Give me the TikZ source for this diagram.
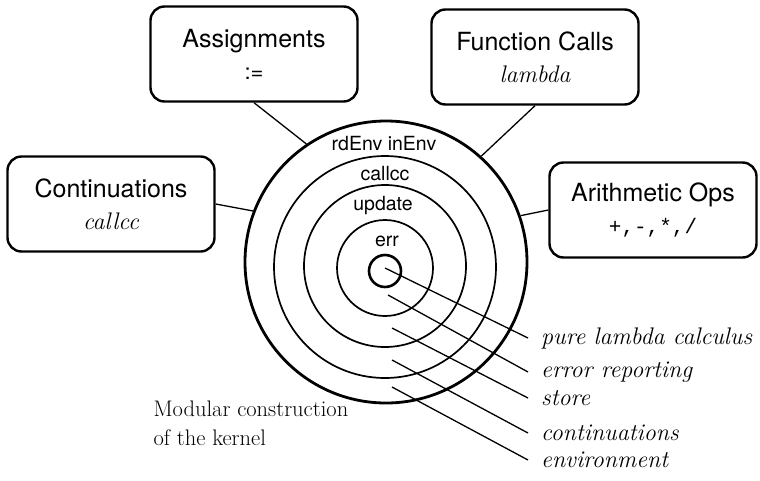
\documentclass[tikz,border=0pt]{standalone}
\usepackage{fontspec}
\setsansfont{TeX Gyre Heros}
\newfontfamily\opsfont{Liberation Mono}
\usetikzlibrary{positioning}

\begin{document}
\begin{tikzpicture}[x=1pt,y=-1pt,
    opbox/.style={draw,line width=2.4pt,rounded corners=14pt,align=center,
      minimum width=207pt,minimum height=95pt,font=\sffamily\fontsize{25}{32}\selectfont},
    ring/.style={circle,draw,line width=1.7pt,inner sep=0pt},
    ringtxt/.style={font=\sffamily\fontsize{19.5}{22}\selectfont,inner sep=0pt},
    layer/.style={anchor=west,inner xsep=13pt,font=\itshape\fontsize{24}{27}\selectfont},
    link/.style={line width=1.3pt}]
  \useasboundingbox (0,0) rectangle (760,480);
  % rings of the kernel, outermost first
  \node[ring,line width=2.8pt,minimum size=282pt] (envring) at (386,262) {};
  \node[ring,minimum size=222pt] (ccring) at (385,267) {};
  \node[ring,minimum size=162pt] (storering) at (385,266) {};
  \node[ring,minimum size=96pt] (errring) at (385,268) {};
  \node[ring,line width=2.6pt,minimum size=32pt] (core) at (385,271) {};
  \node[ringtxt] (rdenv) at (384,144) {rdEnv inEnv};
  \node[ringtxt] (callcc) at (385,174) {callcc};
  \node[ringtxt] (update) at (383,206) {update};
  \node[ringtxt] (err) at (387,241) {err};
  % language features
  \node[opbox] (assign) at (254,54) {Assignments\\ {\fontsize{22}{26}\selectfont :=}};
  \node[opbox] (funcall) at (535,57) {Function Calls\\ {\rmfamily\itshape\fontsize{24}{26}\selectfont lambda}};
  \node[opbox] (cont) at (111,204) {Continuations\\ {\rmfamily\itshape\fontsize{24}{26}\selectfont callcc}};
  \node[opbox] (arith) at (653,210) {Arithmetic Ops\\ {\opsfont\fontsize{21}{26}\selectfont +,-,*,/}};
  \draw[link] (assign.south) -- (envring.124);
  \draw[link] (funcall.south) -- (envring.48);
  \draw[link] (cont.east) -- (envring.159);
  \draw[link] (arith.west) -- (envring.19);
  % what each ring adds
  \coordinate (p1) at (385,268);
  \coordinate (p2) at (388,295);
  \coordinate (p3) at (392,328);
  \coordinate (p4) at (392,360);
  \coordinate (p5) at (392,387);
  \node[layer] (lam) at (528,338) {pure lambda calculus};
  \node[layer] (errrep) at (528,372) {error reporting};
  \node[layer] (store) at (528,398) {store};
  \node[layer] (conts) at (528,433) {continuations};
  \node[layer] (env) at (528,460) {environment};
  \draw[link] (p1) -- (lam.west);
  \draw[link] (p2) -- (errrep.west);
  \draw[link] (p3) -- (store.west);
  \draw[link] (p4) -- (conts.west);
  \draw[link] (p5) -- (env.west);
  \node[anchor=north west,align=left,font=\fontsize{22.5}{29}\selectfont] (caption) at (150,397)
    {Modular construction\\ of the kernel};
\end{tikzpicture}
\end{document}
